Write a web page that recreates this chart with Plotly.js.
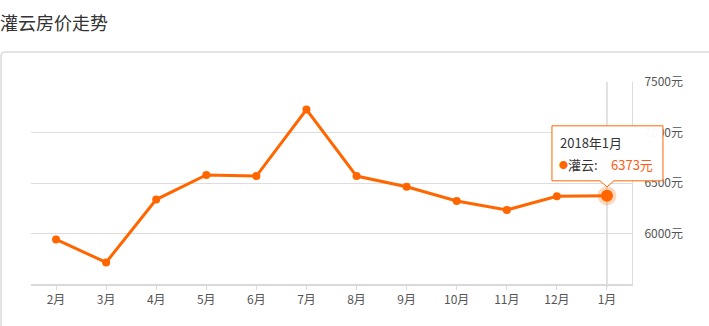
<!DOCTYPE html>
<html>
<head>
<meta charset="utf-8">
<script src="https://cdn.plot.ly/plotly-3.0.1.min.js"></script>
<style>
html,body{margin:0;padding:0;background:#fff;}
#chart{width:709px;height:326px;}
</style>
</head>
<body>
<div id="chart"></div>
<script>
var months = ['2月','3月','4月','5月','6月','7月','8月','9月','10月','11月','12月','1月'];
var prices = [5941, 5714, 6336, 6579, 6569, 7227, 6569, 6463, 6322, 6233, 6368, 6373];
var yTicks = [6000, 6500, 7000, 7500];
var yTickText = ['6000元', '6500元', '7000元', '7500元'];
var tipTitle = '2018年1月';
var seriesName = '灌云';

var FONT = '"Noto Sans CJK SC", "Noto Sans", sans-serif';
var ORANGE = '#ff6600';
var lastIdx = months.length - 1;
var lastMonth = months[lastIdx];
var lastVal = prices[lastIdx];
var yMin = 5500, yMax = 7500;
var xMin = -0.5, xMax = months.length - 0.5;

var traces = [
  {
    x: months, y: prices, type: 'scatter', mode: 'lines+markers',
    line: {color: ORANGE, width: 3},
    marker: {color: ORANGE, size: 8},
    hoverinfo: 'skip', showlegend: false
  },
  {
    x: [lastMonth], y: [lastVal], type: 'scatter', mode: 'markers',
    marker: {color: 'rgba(255,102,0,0.25)', size: 19},
    hoverinfo: 'skip', showlegend: false
  },
  {
    x: [lastMonth], y: [lastVal], type: 'scatter', mode: 'markers',
    marker: {color: ORANGE, size: 12},
    hoverinfo: 'skip', showlegend: false
  }
];

// panel border (paper coords)
var L = 31, R = 77, T = 82, B = 42, W = 709, H = 326;
var pw = W - L - R, ph = H - T - B;
function px(x){ return (x - L) / pw; }
function py(y){ return (H - B - y) / ph; }
var rx = 4 / pw, ry = 4 / ph;
var x0 = px(1), yt = py(52), yb = py(340), xr = px(730);
var panelPath = 'M ' + x0 + ',' + yb + ' L ' + x0 + ',' + (yt - ry) +
  ' Q ' + x0 + ',' + yt + ' ' + (x0 + rx) + ',' + yt + ' L ' + xr + ',' + yt;

// tooltip anchor in paper coords, derived from the last data point
var tipAx = (lastIdx - xMin) / (xMax - xMin);
var tipAy = (lastVal - yMin) / (yMax - yMin);

function tipText(text, dx, dy, size, color){
  return {xref: 'paper', yref: 'paper', x: tipAx, y: tipAy, xshift: dx, yshift: dy,
    xanchor: 'left', yanchor: 'middle', showarrow: false, text: text,
    font: {family: FONT, size: size, color: color}};
}

var layout = {
  width: W, height: H,
  margin: {l: L, r: R, t: T, b: B},
  paper_bgcolor: '#fff', plot_bgcolor: 'rgba(0,0,0,0)',
  font: {family: FONT, size: 12, color: '#555'},
  title: {
    text: '灌云房价走势',
    font: {family: FONT, size: 18, color: '#333'},
    xref: 'container', yref: 'container',
    x: 0, xanchor: 'left', y: 1 - 24 / H, yanchor: 'middle'
  },
  xaxis: {
    type: 'category', range: [xMin, xMax],
    showgrid: false, zeroline: false,
    showline: true, linecolor: '#d9d9d9', linewidth: 2,
    ticks: 'outside', ticklen: 4, tickcolor: '#d9d9d9', tickwidth: 1,
    tickfont: {family: FONT, size: 12, color: '#555'},
    fixedrange: true
  },
  yaxis: {
    side: 'right', range: [yMin, yMax],
    tickmode: 'array', tickvals: yTicks, ticktext: yTickText,
    showgrid: true, gridcolor: '#dddddd', gridwidth: 1,
    zeroline: false, showline: true, linecolor: '#dddddd', linewidth: 1,
    ticks: '', ticklabelstandoff: 9,
    tickfont: {family: FONT, size: 12, color: '#555'},
    fixedrange: true
  },
  shapes: [
    {type: 'path', xref: 'paper', yref: 'paper', path: panelPath,
     line: {color: '#dcdcdc', width: 1.5}, layer: 'below'},
    {type: 'line', xref: 'x', yref: 'paper', x0: lastIdx, x1: lastIdx,
     y0: -0.015, y1: 1, line: {color: '#c4c4c4', width: 1}, layer: 'below'},
    {type: 'path', xref: 'paper', yref: 'paper', xsizemode: 'pixel', ysizemode: 'pixel',
     xanchor: tipAx, yanchor: tipAy,
     path: 'M -55,15 L -7,15 L 0,9 L 7,15 L 56,15 L 56,70 L -55,70 Z',
     fillcolor: 'rgba(255,255,255,0.96)', line: {color: ORANGE, width: 1}, layer: 'above'}
  ],
  annotations: [
    tipText(tipTitle, -49, 53, 13, '#333'),
    tipText('●', -50, 31, 9, ORANGE),
    tipText(seriesName + ':', -41, 31, 13, '#333'),
    tipText(lastVal + '元', 2, 31, 13, '#ff5a14')
  ]
};

Plotly.newPlot('chart', traces, layout, {displayModeBar: false, staticPlot: true});
</script>
</body>
</html>
